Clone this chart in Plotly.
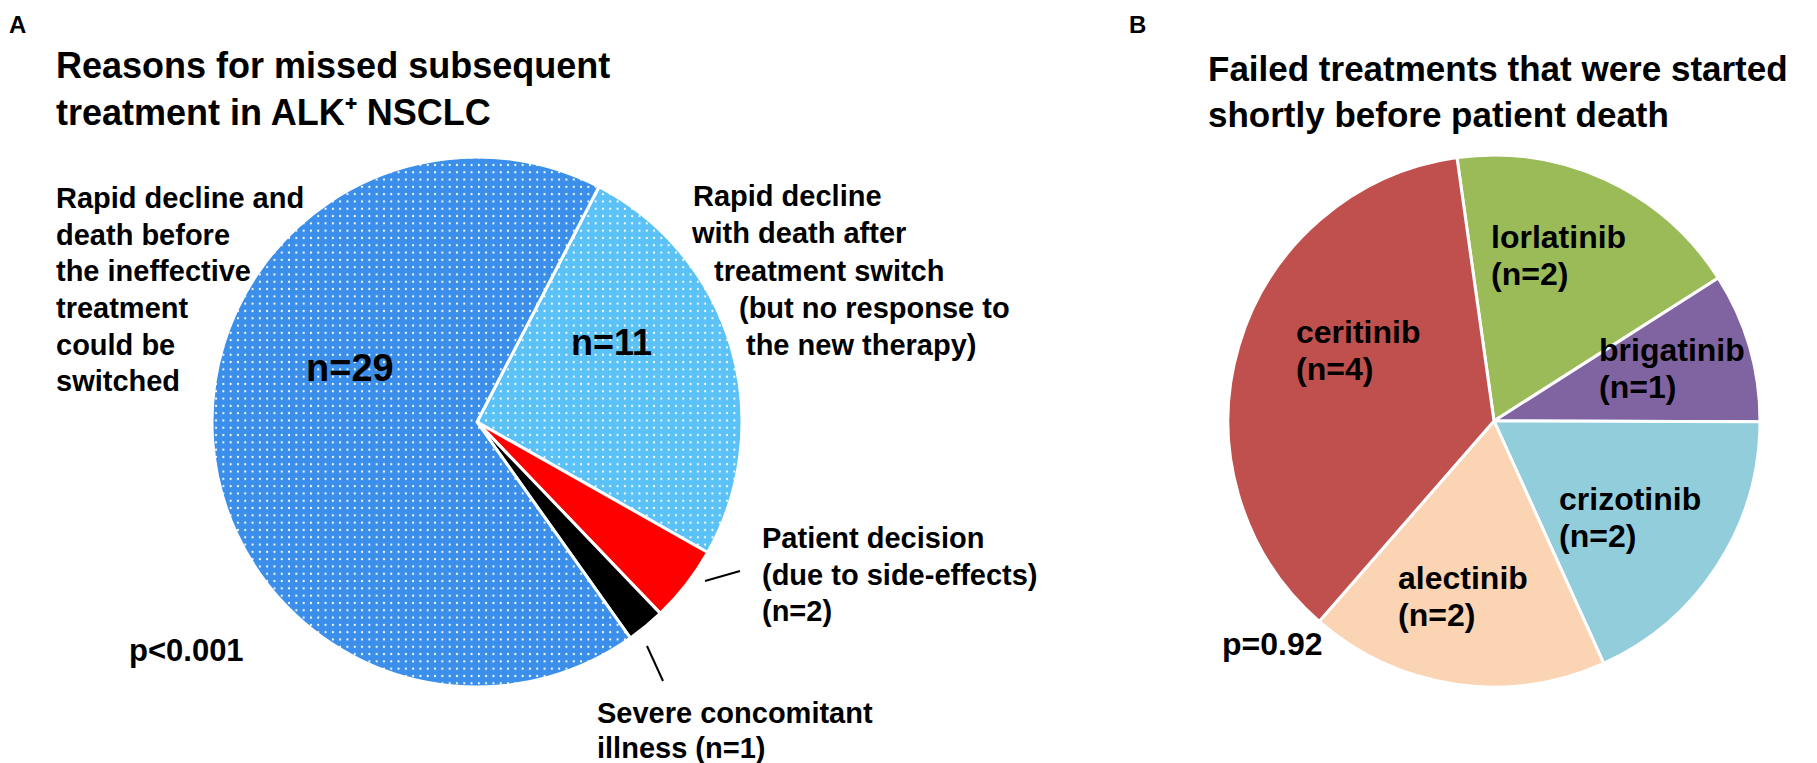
import plotly.graph_objects as go

W, H = 1817, 763

# ---------------- data ----------------
left_labels = [
    "Rapid decline with death after treatment switch (but no response to the new therapy)",
    "Patient decision (due to side-effects)",
    "Severe concomitant illness",
    "Rapid decline and death before the ineffective treatment could be switched",
]
left_values = [11, 2, 1, 29]
left_colors = ["#5BC2F7", "#FF0000", "#000000", "#3B8FEA"]
left_patterns = [".", "", "", "."]

right_labels = ["lorlatinib", "brigatinib", "crizotinib", "alectinib", "ceritinib"]
right_values = [2, 1, 2, 2, 4]
right_colors = ["#9BBB59", "#8064A2", "#92CDDC", "#FBD4B4", "#C0504D"]

left_title = ["Reasons for missed subsequent", "treatment in ALK\u207A NSCLC"]
right_title = ["Failed treatments that were started", "shortly before patient death"]
left_p = "p<0.001"
right_p = "p=0.92"

FONT = "Liberation Sans, Arial, Helvetica, sans-serif"


def px(x):
    return x / W


def py(y):
    return 1 - y / H


fig = go.Figure()

LC, LR = (469, 414), 265
RC, RR = (1486, 413), 266

fig.add_trace(go.Pie(
    labels=left_labels, values=left_values, sort=False, direction="clockwise",
    rotation=27.4,
    marker=dict(colors=left_colors, line=dict(color="white", width=3),
                pattern=dict(shape=left_patterns, fgcolor="white", bgcolor=left_colors,
                             size=7.3, solidity=0.07, fillmode="replace")),
    textinfo="none", hoverinfo="label+value", showlegend=False,
    domain=dict(x=[px(LC[0] - LR), px(LC[0] + LR)], y=[py(LC[1] + LR), py(LC[1] - LR)]),
))

fig.add_trace(go.Pie(
    labels=right_labels, values=right_values, sort=False, direction="clockwise",
    rotation=-8,
    marker=dict(colors=right_colors, line=dict(color="white", width=3)),
    textinfo="none", hoverinfo="label+value", showlegend=False,
    domain=dict(x=[px(RC[0] - RR), px(RC[0] + RR)], y=[py(RC[1] + RR), py(RC[1] - RR)]),
))

annotations = []


def add_lines(lines, xs, baselines, size, xanchor="left"):
    if not isinstance(xs, (list, tuple)):
        xs = [xs] * len(lines)
    for line, x, b in zip(lines, xs, baselines):
        annotations.append(dict(
            text="<b>" + line + "</b>", x=px(x), y=py(b - 0.35 * size),
            xref="paper", yref="paper", xanchor=xanchor, yanchor="middle",
            showarrow=False, font=dict(family=FONT, size=size, color="black"),
            borderpad=0,
        ))


def add_block(lines, x, first_baseline, size):
    n = len(lines)
    last = first_baseline + 1.3 * size * (n - 1)
    annotations.append(dict(
        text="<br>".join("<b>" + l + "</b>" for l in lines),
        x=px(x), y=py((first_baseline + last) / 2 - 0.35 * size),
        xref="paper", yref="paper", xanchor="left", yanchor="middle", align="left",
        showarrow=False, font=dict(family=FONT, size=size, color="black"), borderpad=0,
    ))


# panel letters
add_lines(["A"], 0, [25], 24)
add_lines(["B"], 1120, [25], 24)

# titles
add_block(left_title, 47, 70, 36)
add_block(right_title, 1199, 73, 35)

# left pie labels
add_lines(["Rapid decline and", "death before", "the ineffective", "treatment",
           "could be", "switched"], 47, [200, 237, 273, 310, 347, 383], 29)
add_lines(["Rapid decline", "with death after", "treatment switch",
           "(but no response to", "the new therapy)"],
          [684, 682, 705, 730, 737], [198, 235, 273, 310, 347], 29)
add_lines(["Patient decision", "(due to side-effects)", f"(n={left_values[1]})"],
          753, [540, 577, 613], 29)
add_lines(["Severe concomitant", f"illness (n={left_values[2]})"], 588, [715, 750], 29)
add_lines([f"n={left_values[3]}"], 342, [373], 38, xanchor="center")
add_lines([f"n={left_values[0]}"], 603, [347], 36, xanchor="center")
add_lines([left_p], 120, [653], 31)

# right pie labels
rpos = {
    "lorlatinib": (1482, 240),
    "brigatinib": (1590, 353),
    "crizotinib": (1550, 502),
    "alectinib": (1389, 581),
    "ceritinib": (1287, 335),
}
for name, v in zip(right_labels, right_values):
    x, b = rpos[name]
    add_lines([name, f"(n={v})"], x, [b, b + 37], 32)
add_lines([right_p], 1213, [647], 32)

shapes = [
    dict(type="line", xref="paper", yref="paper", x0=px(697), y0=py(573), x1=px(732), y1=py(563),
         line=dict(color="black", width=2)),
    dict(type="line", xref="paper", yref="paper", x0=px(639), y0=py(638), x1=px(655), y1=py(673),
         line=dict(color="black", width=2)),
]

fig.update_layout(
    width=W, height=H, margin=dict(l=0, r=0, t=0, b=0),
    paper_bgcolor="white", plot_bgcolor="white",
    annotations=annotations, shapes=shapes, showlegend=False,
)

fig.write_html("out.html", config={"displayModeBar": False})
